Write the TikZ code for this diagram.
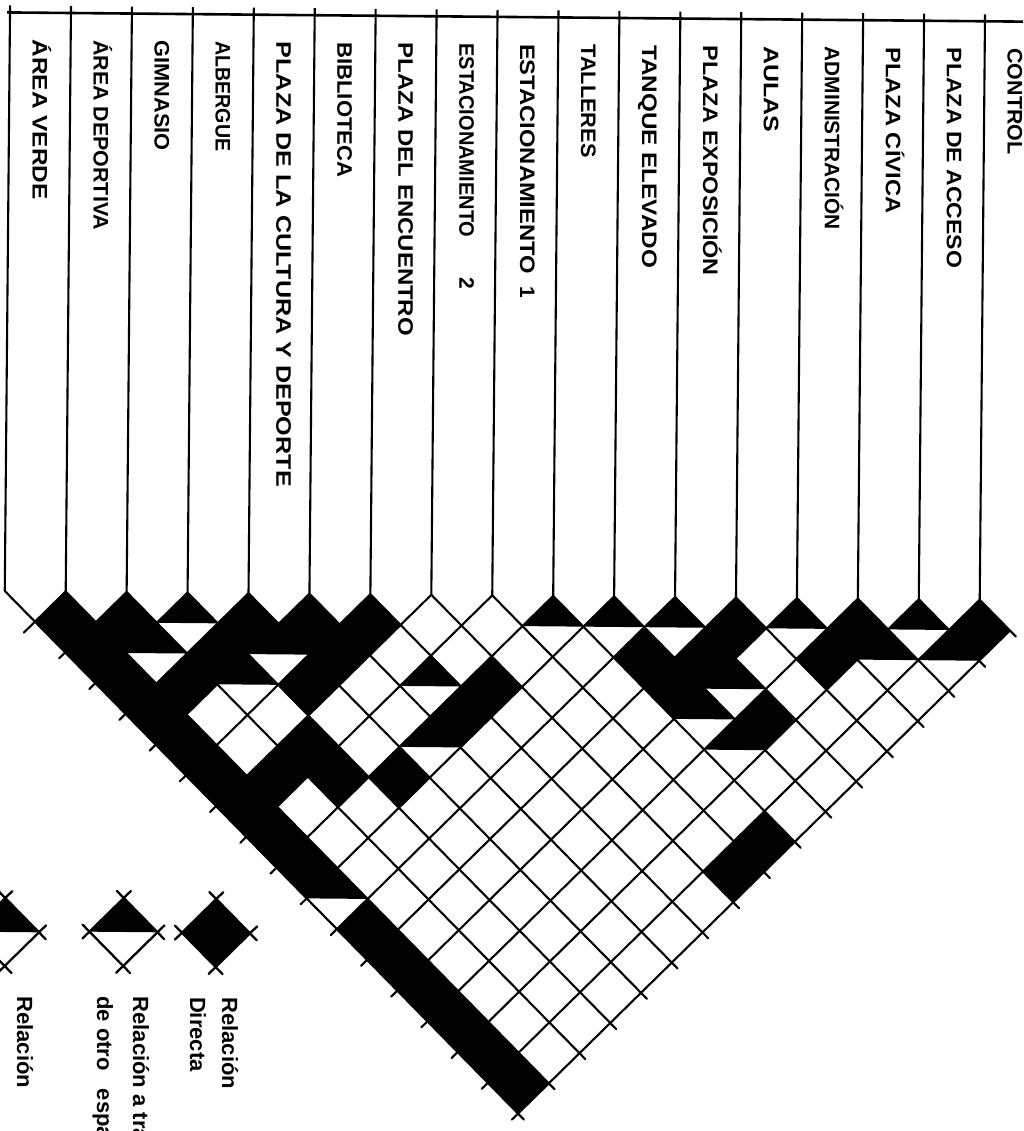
\documentclass[tikz,border=0pt]{standalone}
\usepackage{fontspec}
\setmainfont{Liberation Sans}
\usepackage{graphicx}
\newsavebox\lblbox
\newcommand\fitlbl[2]{\sbox\lblbox{#2}\scalebox{\fpeval{(#1)/(\the\wd\lblbox)}}[1]{\usebox\lblbox}}
\tikzset{
  gridline/.style={line width=2.1pt, line cap=round, line join=round},
  colline/.style={line width=2.1pt},
  topline/.style={line width=2.6pt},
  lbl/.style={font=\bfseries\fontsize{21}{21}\selectfont, rotate=-90, anchor=base west, inner sep=0pt, outer sep=0pt},
  leg/.style={font=\bfseries\fontsize{22}{22}\selectfont, rotate=-90, anchor=base west, inner sep=0pt, outer sep=0pt},
  legline/.style={line width=2.3pt, line cap=round},
}
\def\U{30.47}
\begin{document}
\begin{tikzpicture}[x=1pt,y=-1pt]
\useasboundingbox (0,0) rectangle (1023,1131);
\clip (0,0) rectangle (1023,1131);
\fill[white] (0,0) rectangle (1023,1131);
\begin{scope}[rotate around={-0.52:(512,565)}]
  % header frame
  \draw[topline] (2,17) -- (1045,17);
  \foreach \i in {0,...,16}
    \draw[colline] ({5+60.94*\i},10) -- ({5+60.94*\i},595.53);
  % column labels
  \foreach \k/\len/\txt in {0/160/{ÁREA VERDE},1/190/{ÁREA DEPORTIVA},2/110/{GIMNASIO},3/110/{ALBERGUE},4/445/{PLAZA DE LA CULTURA Y DEPORTE},5/135/{BIBLIOTECA},6/293/{PLAZA DEL ENCUENTRO},9/113/{TALLERES},10/223/{TANQUE ELEVADO},11/230/{PLAZA EXPOSICIÓN},12/86/{AULAS},13/183/{ADMINISTRACIÓN},14/166/{PLAZA CÍVICA},15/220/{PLAZA DE ACCESO},16/106/{CONTROL}}
    \node[lbl] (lbl\k) at ({27.97+60.94*\k},44) {\fitlbl{\len}{\txt}};
  \node[lbl] (lbl7) at ({27.97+60.94*7},44) {\fitlbl{194}{ESTACIONAMIENTO}\hspace{40pt}2};
  \node[lbl] (lbl8) at ({27.97+60.94*8},44) {\fitlbl{230}{ESTACIONAMIENTO}\hspace{12pt}1};
  % full cells
  \foreach \i/\j in {0/1,1/2,3/4,4/5,5/6,11/12,13/14,15/16,
                     0/2,2/4,4/6,9/11,10/12,12/14,
                     0/3,1/4,3/6,6/9,9/12,
                     0/4,5/9,10/14,
                     0/5,2/7,
                     0/6,1/7,2/8,3/9,
                     0/7,0/8,8/16,0/9,7/16,
                     0/11,0/12,0/13,0/14,0/15,0/16}
    \fill ({5+\U*(\i+\j)},{626+\U*(\j-\i-1)}) -- ++(\U,-\U) -- ++(\U,\U) -- ++(-\U,\U) -- cycle;
  % half cells (upper triangle)
  \foreach \i/\j in {2/3,8/9,9/10,10/11,12/13,14/15,
                     1/3,3/5,13/15,14/16,
                     2/5,5/8,10/13,
                     9/13,4/9,9/14,0/10}
    \fill ({5+\U*(\i+\j)},{626+\U*(\j-\i-1)}) -- ++(\U,-\U) -- ++(\U,\U) -- cycle;
  % grid lines down-right
  \foreach \i in {0,...,16}
    \draw[gridline] ({5+60.94*\i},595.53) -- ({35.47+30.47*(\i+16)+6},{626+30.47*(16-\i)+6});
  % grid lines down-left
  \foreach \j in {1,...,15}
    \draw[gridline] ({5+60.94*(\j+1)},595.53) -- ({35.47+30.47*\j-6},{626+30.47*\j+6});
  \draw[gridline] (65.94,595.53) -- (24.47,637);
  \draw[gridline] (1010.51,626) -- ({35.47+30.47*16-6},{626+30.47*16+6});
  % legend symbols
  \foreach \cx/\cy/\ty in {219.3/935.7/1,126.8/935.5/2,8.3/936.6/2}{
    \ifnum\ty=1
      \fill (\cx-34,\cy) -- (\cx,\cy-34) -- (\cx+34,\cy) -- (\cx,\cy+34) -- cycle;
    \else
      \fill (\cx-34,\cy) -- (\cx,\cy-34) -- (\cx+34,\cy) -- cycle;
    \fi
    \draw[legline] ({\cx-41},{\cy+7}) -- ({\cx+7},{\cy-41});
    \draw[legline] ({\cx-7},{\cy-41}) -- ({\cx+41},{\cy+7});
    \draw[legline] ({\cx+41},{\cy-7}) -- ({\cx-7},{\cy+41});
    \draw[legline] ({\cx+7},{\cy+41}) -- ({\cx-41},{\cy-7});
  }
  % legend texts
  \node[leg] (legA1) at (226,1000) {Relación};
  \node[leg] (legA2) at (194,1000) {Directa};
  \node[leg] (legB1) at (137,1000) {Relación a través};
  \node[leg] (legB2) at (101,1000) {de otro\hspace{12pt} espacio};
  \node[leg] (legC1) at (21,1001) {Relación};
\end{scope}
\end{tikzpicture}
\end{document}
